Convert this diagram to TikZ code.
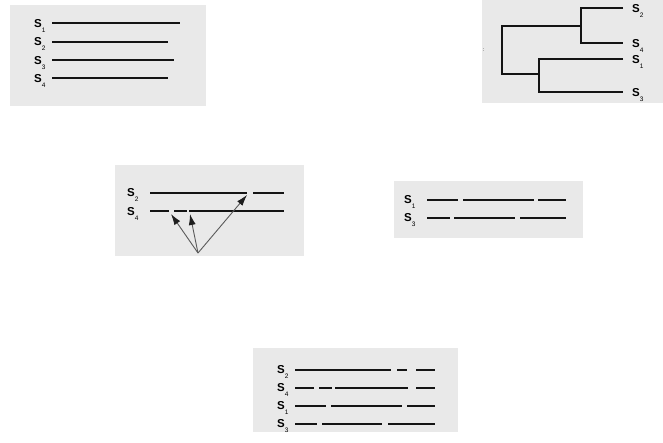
\documentclass[tikz,border=0pt]{standalone}
\usepackage{fontspec}
\setmainfont{Liberation Sans}
\usetikzlibrary{arrows.meta}
\definecolor{panelbg}{HTML}{E9E9E9}
\definecolor{ink}{HTML}{141414}
\definecolor{arrowgray}{HTML}{5A5A5A}
\definecolor{headgray}{HTML}{1E1E1E}
\tikzset{
  panel/.style={fill=panelbg, draw=none},
  seg/.style={draw=ink, line width=1.7pt},
  branch/.style={draw=ink, line width=1.6pt},
  slab/.style={anchor=west, inner sep=0pt, font=\fontsize{11.5}{11.5}\selectfont\bfseries},
  ptr/.style={draw=arrowgray, line width=0.9pt, -{Latex[length=11pt,width=7pt,color=headgray]}},
}
\newcommand{\sname}[1]{S\raisebox{-5pt}{\fontsize{6.5}{6.5}\selectfont\mdseries #1}}
\begin{document}
\begin{tikzpicture}[x=1pt,y=-1pt]
\useasboundingbox (0,0) rectangle (663,442);
\fill[white] (0,0) rectangle (663,442);

% ---------- Panel 1 ----------
\fill[panel] (10,5) rectangle (206,106);
\node[slab] (p1s1) at (34,26) {\sname{1}};
\node[slab] (p1s2) at (34,44) {\sname{2}};
\node[slab] (p1s3) at (34,63) {\sname{3}};
\node[slab] (p1s4) at (34,81) {\sname{4}};
\draw[seg] (52,23) -- (180,23);
\draw[seg] (52,42) -- (168,42);
\draw[seg] (52,60) -- (174,60);
\draw[seg] (52,78) -- (168,78);

% ---------- Panel 2 (tree) ----------
\fill[panel] (482,0) rectangle (663,103);
\node[inner sep=0pt, font=\fontsize{5}{5}\selectfont] (mark) at (483.5,50) {:};
\draw[branch] (623,8) -- (581,8) -- (581,43) -- (623,43);
\draw[branch] (623,59) -- (539,59) -- (539,92) -- (623,92);
\draw[branch] (581,26) -- (502,26) -- (502,74) -- (539,74);
\node[slab] (p2s2) at (632,11) {\sname{2}};
\node[slab] (p2s4) at (632,46) {\sname{4}};
\node[slab] (p2s1) at (632,62) {\sname{1}};
\node[slab] (p2s3) at (632,95) {\sname{3}};

% ---------- Panel 3 ----------
\fill[panel] (115,165) rectangle (304,256);
\node[slab] (p3s2) at (127,195) {\sname{2}};
\node[slab] (p3s4) at (127,214) {\sname{4}};
\draw[seg] (150,193) -- (247,193);
\draw[seg] (253,193) -- (284,193);
\draw[seg] (150,211) -- (169,211);
\draw[seg] (174,211) -- (187,211);
\draw[seg] (189,211) -- (284,211);
\coordinate (src) at (198,253);
\coordinate (t1) at (171,214);
\coordinate (t2) at (190,214);
\coordinate (t3) at (247,195);
\draw[ptr] (src) -- (t1);
\draw[ptr] (src) -- (t2);
\draw[ptr] (src) -- (t3);

% ---------- Panel 4 ----------
\fill[panel] (394,181) rectangle (583,238);
\node[slab] (p4s1) at (404,202) {\sname{1}};
\node[slab] (p4s3) at (404,220) {\sname{3}};
\draw[seg] (427,200) -- (458,200);
\draw[seg] (463,200) -- (534,200);
\draw[seg] (538,200) -- (566,200);
\draw[seg] (427,218) -- (450,218);
\draw[seg] (454,218) -- (515,218);
\draw[seg] (520,218) -- (566,218);

% ---------- Panel 5 ----------
\fill[panel] (253,348) rectangle (458,432);
\node[slab] (p5s2) at (277,372) {\sname{2}};
\node[slab] (p5s4) at (277,390) {\sname{4}};
\node[slab] (p5s1) at (277,408) {\sname{1}};
\node[slab] (p5s3) at (277,426) {\sname{3}};
\draw[seg] (295,370) -- (391,370);
\draw[seg] (397,370) -- (407,370);
\draw[seg] (416,370) -- (435,370);
\draw[seg] (295,388) -- (314,388);
\draw[seg] (319,388) -- (332,388);
\draw[seg] (335,388) -- (408,388);
\draw[seg] (416,388) -- (435,388);
\draw[seg] (295,406) -- (326,406);
\draw[seg] (331,406) -- (402,406);
\draw[seg] (407,406) -- (435,406);
\draw[seg] (295,424) -- (317,424);
\draw[seg] (322,424) -- (382,424);
\draw[seg] (388,424) -- (435,424);
\end{tikzpicture}
\end{document}
